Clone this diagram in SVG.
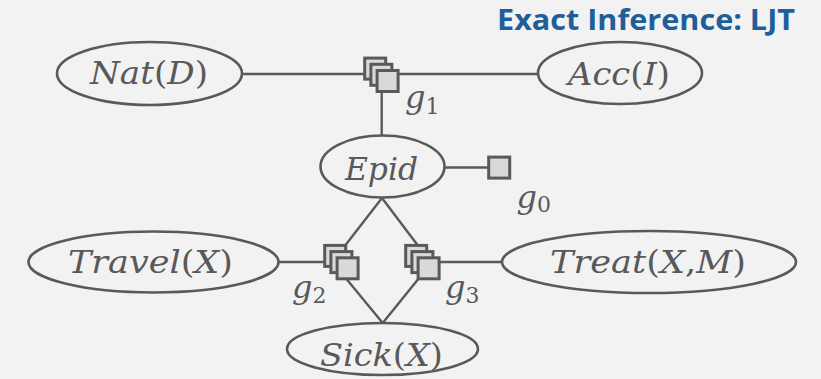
<svg xmlns="http://www.w3.org/2000/svg" width="821" height="379" viewBox="0 0 821 379">
<style>
.bg{fill:#f2f2f2}
.ell{fill:none;stroke:#595959;stroke-width:2.6}
.lbl{font-family:"DejaVu Serif","Liberation Serif",serif;font-style:italic;font-size:31px;fill:#595959}
.up{font-style:normal}
.sq{fill:#d9d9d9;stroke:#595959;stroke-width:3}
.edge{stroke:#595959;stroke-width:2.4;fill:none}
.g{font-family:"DejaVu Serif","Liberation Serif",serif;font-style:italic;font-size:32px;fill:#595959}
.sub{font-family:"DejaVu Serif","Liberation Serif",serif;font-style:normal;font-size:22px;fill:#595959}
.title{font-family:"Open Sans","Liberation Sans",sans-serif;font-weight:bold;font-size:29px;fill:#1f5f99}
</style>
<defs>
<rect id="s" class="sq" width="21" height="21"/>
<g id="stack">
<use href="#s" x="0" y="0"/>
<use href="#s" x="6.2" y="6.2"/>
<use href="#s" x="12.4" y="12.4"/>
</g>
</defs>
<rect class="bg" x="0" y="0" width="821" height="379"/>
<text class="title" x="795" y="30" text-anchor="end" textLength="298" lengthAdjust="spacingAndGlyphs">Exact Inference: LJT</text>

<g id="connectors">
<line class="edge" x1="242" y1="74" x2="538" y2="74"/>
<line class="edge" x1="381.7" y1="80" x2="381.7" y2="135.5"/>
<line class="edge" x1="444.5" y1="167.5" x2="490" y2="167.5"/>
<line class="edge" x1="382" y1="198" x2="344" y2="247"/>
<line class="edge" x1="382" y1="198" x2="419" y2="247"/>
<line class="edge" x1="278" y1="262" x2="326" y2="262"/>
<line class="edge" x1="438" y1="262" x2="502" y2="262"/>
<line class="edge" x1="346.5" y1="279" x2="382.7" y2="323"/>
<line class="edge" x1="418.3" y1="279" x2="382.7" y2="323"/>
</g>

<g id="nat">
<ellipse class="ell" cx="149.5" cy="73.5" rx="92.5" ry="31.5"/>
<text class="lbl" x="90" y="84" textLength="118" lengthAdjust="spacingAndGlyphs">Nat<tspan class="up">(</tspan>D<tspan class="up">)</tspan></text>
</g>
<g id="acc">
<ellipse class="ell" cx="620" cy="73" rx="82" ry="31"/>
<text class="lbl" x="568" y="85" textLength="102" lengthAdjust="spacingAndGlyphs">Acc<tspan class="up">(</tspan>I<tspan class="up">)</tspan></text>
</g>
<g id="g1">
<use href="#stack" x="364.7" y="58.1"/>
<text class="g" x="405" y="108">g<tspan class="sub" dy="6">1</tspan></text>
</g>
<g id="epid">
<ellipse class="ell" cx="382.5" cy="166.5" rx="62" ry="31"/>
<text class="lbl" x="345" y="180" textLength="73" lengthAdjust="spacingAndGlyphs">Epid</text>
</g>
<g id="g0">
<use href="#s" x="488.7" y="157.1"/>
<text class="g" x="516.5" y="207.5">g<tspan class="sub" dy="4">0</tspan></text>
</g>
<g id="travel">
<ellipse class="ell" cx="153.5" cy="262" rx="125" ry="30.5"/>
<text class="lbl" x="68" y="273" textLength="165" lengthAdjust="spacingAndGlyphs">Travel<tspan class="up">(</tspan>X<tspan class="up">)</tspan></text>
</g>
<g id="g2">
<use href="#stack" x="324.7" y="245.4"/>
<text class="g" x="292" y="298">g<tspan class="sub" dy="5">2</tspan></text>
</g>
<g id="g3">
<use href="#stack" x="405.7" y="245.4"/>
<text class="g" x="445" y="298">g<tspan class="sub" dy="5">3</tspan></text>
</g>
<g id="treat">
<ellipse class="ell" cx="649" cy="262" rx="147" ry="31"/>
<text class="lbl" x="550" y="273" textLength="196" lengthAdjust="spacingAndGlyphs">Treat<tspan class="up">(</tspan>X<tspan class="up">,</tspan>M<tspan class="up">)</tspan></text>
</g>
<g id="sick">
<ellipse class="ell" cx="382.5" cy="349" rx="95.5" ry="26"/>
<text class="lbl" x="320" y="366" textLength="123" lengthAdjust="spacingAndGlyphs">Sick<tspan class="up">(</tspan>X<tspan class="up">)</tspan></text>
</g>
</svg>
